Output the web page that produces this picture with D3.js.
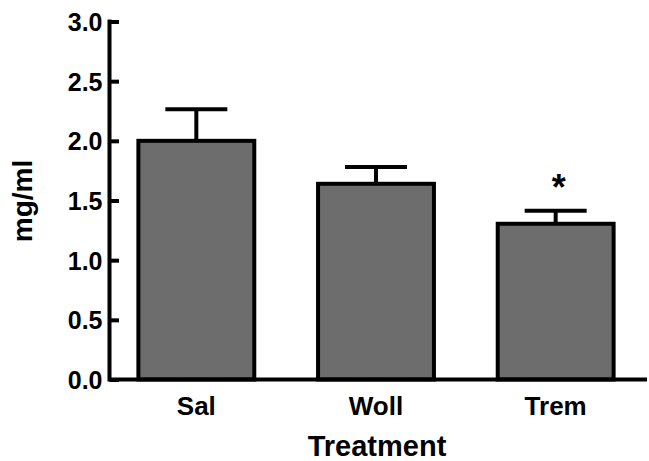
<!DOCTYPE html>
<html><head><meta charset="utf-8">
<script src="https://cdn.jsdelivr.net/npm/d3@7"></script>
<style>html,body{margin:0;padding:0;background:#fff}svg{display:block}</style>
</head><body>
<svg id="c" width="649" height="461"></svg>
<script>
const categories = ["Sal", "Woll", "Trem"];
const means = [2.0, 1.64, 1.305];
const errors = [0.265, 0.14, 0.11];
const significant = [false, false, true];
const yTicks = [0, 0.5, 1.0, 1.5, 2.0, 2.5, 3.0];
const yLabel = "mg/ml";
const xLabel = "Treatment";

const svg = d3.select("#c");
const font = "'Liberation Sans', Arial, sans-serif";
const y = d3.scaleLinear().domain([0, 3]).range([379.5, 21.5]);
const x = d3.scaleBand().domain(categories).range([106.5, 645.5]).paddingInner(0.355).paddingOuter(0.1775);
const axX = 109.5;
const sw = 4;

// bars
svg.selectAll("rect.bar").data(categories).join("rect")
  .attr("class", "bar")
  .attr("x", d => x(d))
  .attr("width", x.bandwidth())
  .attr("y", (d, i) => y(means[i]))
  .attr("height", (d, i) => y(0) - y(means[i]))
  .attr("fill", "#6d6d6d").attr("stroke", "#000").attr("stroke-width", sw);

// error bars
const capW = 62;
categories.forEach((c, i) => {
  const cx = x(c) + x.bandwidth() / 2;
  svg.append("line").attr("x1", cx).attr("x2", cx)
    .attr("y1", y(means[i])).attr("y2", y(means[i] + errors[i]))
    .attr("stroke", "#000").attr("stroke-width", sw);
  svg.append("line").attr("x1", cx - capW / 2).attr("x2", cx + capW / 2)
    .attr("y1", y(means[i] + errors[i])).attr("y2", y(means[i] + errors[i]))
    .attr("stroke", "#000").attr("stroke-width", sw);
  if (significant[i]) {
    svg.append("text").attr("x", cx + 3).attr("y", y(means[i] + errors[i]) - 11)
      .attr("text-anchor", "middle").attr("font-family", font).attr("font-weight", "bold")
      .attr("font-size", 36).text("*");
  }
});

// y axis
const yAxis = d3.axisRight(y).tickValues(yTicks).tickSize(9.5).tickFormat(d3.format(".1f"));
const gy = svg.append("g").attr("transform", `translate(${axX},0)`).call(yAxis);
gy.select(".domain").remove();
gy.selectAll(".tick line").attr("stroke", "#000").attr("stroke-width", sw);
gy.selectAll(".tick text").attr("x", -7).attr("text-anchor", "end")
  .attr("font-family", font).attr("font-weight", "bold").attr("font-size", 25).attr("fill", "#000").attr("dy", "0.36em");
svg.append("line").attr("x1", axX).attr("x2", axX).attr("y1", y(3) - 2).attr("y2", y(0) + 2)
  .attr("stroke", "#000").attr("stroke-width", sw);

// x axis
svg.append("line").attr("x1", axX).attr("x2", 647).attr("y1", y(0)).attr("y2", y(0))
  .attr("stroke", "#000").attr("stroke-width", sw);
svg.selectAll("text.cat").data(categories).join("text").attr("class", "cat")
  .attr("x", d => x(d) + x.bandwidth() / 2).attr("y", 415)
  .attr("text-anchor", "middle").attr("font-family", font).attr("font-weight", "bold")
  .attr("font-size", 26).text(d => d);

svg.append("text").attr("x", 377).attr("y", 456).attr("text-anchor", "middle")
  .attr("font-family", font).attr("font-weight", "bold").attr("font-size", 29).text(xLabel);
svg.append("text").attr("transform", "translate(32,201) rotate(-90)").attr("text-anchor", "middle")
  .attr("font-family", font).attr("font-weight", "bold").attr("font-size", 28).text(yLabel);
</script>
</body></html>
